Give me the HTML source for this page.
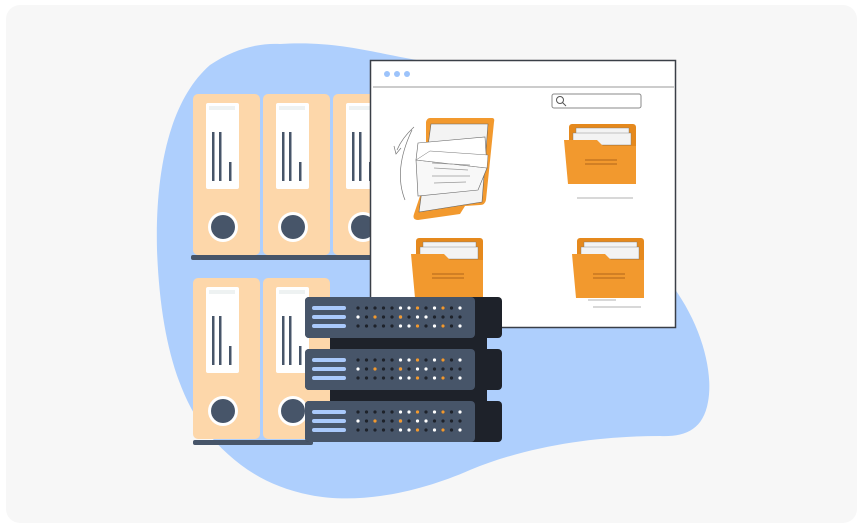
<!DOCTYPE html>
<html><head><style>html,body{margin:0;padding:0;background:#fff;width:862px;height:528px;overflow:hidden}</style></head>
<body>
<svg width="862" height="528" viewBox="0 0 862 528" xmlns="http://www.w3.org/2000/svg">
<rect x="6" y="5" width="851" height="518" rx="14" fill="#f7f7f7"/>
<path d="M280 44 C340 40 380 55 430 62 L668 280 C700 320 714 370 708 402 C703 430 685 437 660 436 C600 436 530 445 470 470 C420 492 360 505 310 495 C260 485 230 460 205 430 C175 390 160 330 157 250 C155 170 170 100 210 65 C235 48 260 43 280 44 Z" fill="#aecffd"/>
<g id="binders">
 <g>
  <rect x="193" y="94" width="67" height="161" rx="5" fill="#fdd7aa"/>
  <rect x="206" y="103" width="33" height="86" rx="2" fill="#fff"/>
  <rect x="209" y="106" width="26" height="4" fill="#eef2f2"/>
  <rect x="212" y="132" width="2.5" height="49" fill="#475569"/><rect x="219" y="132" width="2.5" height="49" fill="#475569"/><rect x="229" y="162" width="2.5" height="19" fill="#475569"/>
  <circle cx="223" cy="227" r="15" fill="#fff"/><circle cx="223" cy="227" r="12" fill="#475569"/>
 </g>
 <g transform="translate(70,0)">
  <rect x="193" y="94" width="67" height="161" rx="5" fill="#fdd7aa"/>
  <rect x="206" y="103" width="33" height="86" rx="2" fill="#fff"/>
  <rect x="209" y="106" width="26" height="4" fill="#eef2f2"/>
  <rect x="212" y="132" width="2.5" height="49" fill="#475569"/><rect x="219" y="132" width="2.5" height="49" fill="#475569"/><rect x="229" y="162" width="2.5" height="19" fill="#475569"/>
  <circle cx="223" cy="227" r="15" fill="#fff"/><circle cx="223" cy="227" r="12" fill="#475569"/>
 </g>
 <g transform="translate(140,0)">
  <rect x="193" y="94" width="67" height="161" rx="5" fill="#fdd7aa"/>
  <rect x="206" y="103" width="33" height="86" rx="2" fill="#fff"/>
  <rect x="209" y="106" width="26" height="4" fill="#eef2f2"/>
  <rect x="212" y="132" width="2.5" height="49" fill="#475569"/><rect x="219" y="132" width="2.5" height="49" fill="#475569"/><rect x="229" y="162" width="2.5" height="19" fill="#475569"/>
  <circle cx="223" cy="227" r="15" fill="#fff"/><circle cx="223" cy="227" r="12" fill="#475569"/>
 </g>
 <rect x="191" y="255" width="185" height="5" rx="2" fill="#475569"/>
 <g transform="translate(0,184)">
  <rect x="193" y="94" width="67" height="161" rx="5" fill="#fdd7aa"/>
  <rect x="206" y="103" width="33" height="86" rx="2" fill="#fff"/>
  <rect x="209" y="106" width="26" height="4" fill="#eef2f2"/>
  <rect x="212" y="132" width="2.5" height="49" fill="#475569"/><rect x="219" y="132" width="2.5" height="49" fill="#475569"/><rect x="229" y="162" width="2.5" height="19" fill="#475569"/>
  <circle cx="223" cy="227" r="15" fill="#fff"/><circle cx="223" cy="227" r="12" fill="#475569"/>
 </g>
 <g transform="translate(70,184)">
  <rect x="193" y="94" width="67" height="161" rx="5" fill="#fdd7aa"/>
  <rect x="206" y="103" width="33" height="86" rx="2" fill="#fff"/>
  <rect x="209" y="106" width="26" height="4" fill="#eef2f2"/>
  <rect x="212" y="132" width="2.5" height="49" fill="#475569"/><rect x="219" y="132" width="2.5" height="49" fill="#475569"/><rect x="229" y="162" width="2.5" height="19" fill="#475569"/>
  <circle cx="223" cy="227" r="15" fill="#fff"/><circle cx="223" cy="227" r="12" fill="#475569"/>
 </g>
 <rect x="193" y="440" width="120" height="5" rx="2" fill="#475569"/>
</g>
<!-- window -->
<rect x="370.5" y="60.5" width="305" height="267" fill="#fff" stroke="#3a3f47" stroke-width="1.5"/>
<circle cx="387" cy="74" r="3" fill="#9cc3fb"/><circle cx="397" cy="74" r="3" fill="#9cc3fb"/><circle cx="407" cy="74" r="3" fill="#9cc3fb"/>
<line x1="373" y1="87" x2="674" y2="87" stroke="#999" stroke-width="1"/>
<rect x="552" y="94" width="89" height="14" rx="2" fill="#fff" stroke="#888" stroke-width="1"/>
<circle cx="560" cy="100" r="3.5" fill="none" stroke="#555" stroke-width="1"/><line x1="562.5" y1="102.5" x2="566" y2="106" stroke="#555"/>
<!-- open book folder -->
<path d="M430 118 L492 118 Q495 118 494 122 L486 200 Q485 205 480 205 L465 206 L460 214 L418 220 Q412 220 414 214 L426 178 L426 122 Q427 118 430 118 Z" fill="#f2992e"/>
<path d="M431 124 L488 124 L482 202 L419 212 Z" fill="#f3f3f3" stroke="#666" stroke-width="0.6"/>
<path d="M418 143 L485 137 L487 168 L416 160 Z" fill="#fff" stroke="#666" stroke-width="0.6"/>
<path d="M416 160 L487 168 L478 190 L418 196 Z" fill="#f8f8f8" stroke="#666" stroke-width="0.6"/>
<path d="M416 160 L430 151 L488 155 L487 168 Z" fill="#fff" stroke="#777" stroke-width="0.5"/>
<g stroke="#999" stroke-width="0.7"><line x1="432" y1="163" x2="470" y2="165"/><line x1="434" y1="168" x2="468" y2="170"/><line x1="432" y1="176" x2="470" y2="176"/><line x1="434" y1="183" x2="466" y2="182"/></g>
<path d="M405 200 Q393 170 412 130" fill="none" stroke="#777" stroke-width="0.7"/>
<path d="M397 150 Q402 138 414 127" fill="none" stroke="#777" stroke-width="0.7"/>
<path d="M394 146 L396 154 L401 148" fill="none" stroke="#777" stroke-width="0.7"/>
<!-- folders -->
<g id="f1">
 <rect x="569" y="124" width="67" height="58" rx="3" fill="#e5891d"/>
 <rect x="576" y="128" width="53" height="10" fill="#f3f3f3" stroke="#777" stroke-width="0.4"/>
 <rect x="573" y="133" width="58" height="12" fill="#f3f3f3" stroke="#777" stroke-width="0.4"/>
 <path d="M564 140 L597 140 L603 146 L636 146 L636 184 L568 184 Z" fill="#f2992e"/>
 <line x1="585" y1="160" x2="617" y2="160" stroke="#b0651a" stroke-width="1"/><line x1="585" y1="164" x2="617" y2="164" stroke="#b0651a" stroke-width="1"/>
 <line x1="577" y1="198" x2="633" y2="198" stroke="#999" stroke-width="0.8"/>
</g>
<g transform="translate(-153,114)">
 <rect x="569" y="124" width="67" height="58" rx="3" fill="#e5891d"/>
 <rect x="576" y="128" width="53" height="10" fill="#f3f3f3" stroke="#777" stroke-width="0.4"/>
 <rect x="573" y="133" width="58" height="12" fill="#f3f3f3" stroke="#777" stroke-width="0.4"/>
 <path d="M564 140 L597 140 L603 146 L636 146 L636 184 L568 184 Z" fill="#f2992e"/>
 <line x1="585" y1="160" x2="617" y2="160" stroke="#b0651a" stroke-width="1"/><line x1="585" y1="164" x2="617" y2="164" stroke="#b0651a" stroke-width="1"/>
</g>
<g transform="translate(8,114)">
 <rect x="569" y="124" width="67" height="58" rx="3" fill="#e5891d"/>
 <rect x="576" y="128" width="53" height="10" fill="#f3f3f3" stroke="#777" stroke-width="0.4"/>
 <rect x="573" y="133" width="58" height="12" fill="#f3f3f3" stroke="#777" stroke-width="0.4"/>
 <path d="M564 140 L597 140 L603 146 L636 146 L636 184 L568 184 Z" fill="#f2992e"/>
 <line x1="585" y1="160" x2="617" y2="160" stroke="#b0651a" stroke-width="1"/><line x1="585" y1="164" x2="617" y2="164" stroke="#b0651a" stroke-width="1"/>
 <line x1="580" y1="186" x2="608" y2="186" stroke="#999" stroke-width="0.8"/>
 <line x1="585" y1="193" x2="633" y2="193" stroke="#999" stroke-width="0.8"/>
</g>
<!-- servers -->
<rect x="330" y="330" width="157" height="80" fill="#1e222a"/>
<g id="srv">
 <rect x="305" y="297" width="197" height="41" rx="4" fill="#1e222a"/>
 <rect x="305" y="297" width="170" height="41" rx="4" fill="#475569"/>
 <rect x="312" y="306" width="34" height="4" rx="2" fill="#a9c9fb"/>
 <rect x="312" y="315" width="34" height="4" rx="2" fill="#a9c9fb"/>
 <rect x="312" y="324" width="34" height="4" rx="2" fill="#a9c9fb"/>
 <g fill="#1e222a">
  <circle cx="358" cy="308" r="1.6"/><circle cx="366.5" cy="308" r="1.6"/><circle cx="375" cy="308" r="1.6"/><circle cx="383.5" cy="308" r="1.6"/><circle cx="392" cy="308" r="1.6"/>
  <circle cx="366.5" cy="317" r="1.6"/><circle cx="383.5" cy="317" r="1.6"/><circle cx="392" cy="317" r="1.6"/><circle cx="409" cy="317" r="1.6"/><circle cx="434.5" cy="317" r="1.6"/><circle cx="443" cy="317" r="1.6"/><circle cx="451.5" cy="317" r="1.6"/><circle cx="460" cy="317" r="1.6"/>
  <circle cx="358" cy="326" r="1.6"/><circle cx="366.5" cy="326" r="1.6"/><circle cx="375" cy="326" r="1.6"/><circle cx="383.5" cy="326" r="1.6"/><circle cx="392" cy="326" r="1.6"/>
  <circle cx="426" cy="308" r="1.6"/><circle cx="443" cy="308" r="1.6"/><circle cx="451.5" cy="308" r="1.6"/><circle cx="426" cy="326" r="1.6"/><circle cx="443" cy="326" r="1.6"/><circle cx="451.5" cy="326" r="1.6"/>
 </g>
 <g fill="#fff">
  <circle cx="400.5" cy="308" r="1.6"/><circle cx="409" cy="308" r="1.6"/><circle cx="434.5" cy="308" r="1.6"/><circle cx="460" cy="308" r="1.6"/>
  <circle cx="358" cy="317" r="1.6"/><circle cx="400.5" cy="317" r="1.6"/><circle cx="417.5" cy="317" r="1.6"/><circle cx="426" cy="317" r="1.6"/>
  <circle cx="400.5" cy="326" r="1.6"/><circle cx="409" cy="326" r="1.6"/><circle cx="434.5" cy="326" r="1.6"/><circle cx="460" cy="326" r="1.6"/>
 </g>
 <g fill="#f2992e">
  <circle cx="417.5" cy="308" r="1.6"/><circle cx="443" cy="308" r="1.6"/>
  <circle cx="375" cy="317" r="1.6"/><circle cx="400.5" cy="317" r="1.6"/>
  <circle cx="417.5" cy="326" r="1.6"/><circle cx="443" cy="326" r="1.6"/>
 </g>
</g>
<use href="#srv" y="52"/>
<use href="#srv" y="104"/>
</svg>
</body></html>
